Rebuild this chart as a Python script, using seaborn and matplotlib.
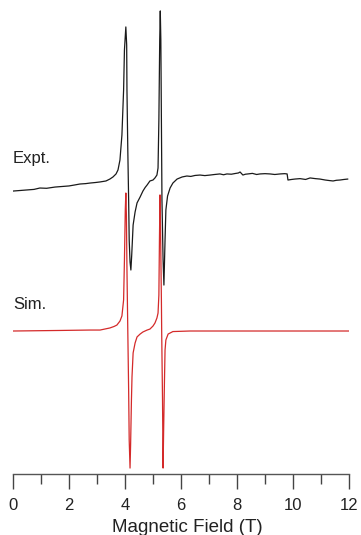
import matplotlib
matplotlib.use("Agg")
import matplotlib.pyplot as plt
from matplotlib.ticker import MultipleLocator
import pandas as pd
import seaborn as sns

# Experimental spectrum: magnetic field (T) and signal (arb. units)
expt_field = [0.00, 0.25, 0.50, 0.75, 0.96, 1.20, 1.50, 1.75, 2.00, 2.20, 2.39, 2.60, 2.75,
              2.95, 3.11, 3.32, 3.46, 3.57, 3.68, 3.75, 3.82, 3.89, 3.95, 3.98, 4.03,
              4.06, 4.07, 4.10, 4.13, 4.15, 4.18, 4.21, 4.24, 4.29, 4.36, 4.43, 4.54,
              4.64, 4.72, 4.79, 4.89, 5.00, 5.07, 5.14, 5.18, 5.21, 5.24, 5.26, 5.28,
              5.30, 5.32, 5.36, 5.39, 5.43, 5.46, 5.52, 5.61, 5.71, 5.86, 6.04, 6.21,
              6.35, 6.50, 6.68, 6.85, 7.04, 7.20, 7.39, 7.52, 7.64, 7.80, 7.93, 8.05,
              8.11, 8.21, 8.30, 8.39, 8.55, 8.70, 8.82, 9.00, 9.18, 9.35, 9.54, 9.70,
              9.79, 9.82, 9.95, 10.07, 10.25, 10.45, 10.61, 10.80, 10.96, 11.15, 11.30,
              11.43, 11.55, 11.68, 11.82, 11.96]
expt_signal = [0.014, 0.018, 0.022, 0.026, 0.036, 0.034, 0.043, 0.047, 0.051, 0.058, 0.065,
               0.068, 0.072, 0.076, 0.080, 0.087, 0.101, 0.116, 0.138, 0.167, 0.239, 0.420,
               0.746, 1.036, 1.203, 1.072, 0.746, 0.312, -0.051, -0.341, -0.500, -0.558,
               -0.449, -0.232, -0.138, -0.072, -0.029, 0.014, 0.040, 0.058, 0.087, 0.094,
               0.109, 0.130, 0.181, 0.529, 1.109, 1.319, 1.109, 0.529, -0.051, -0.486,
               -0.667, -0.341, -0.123, -0.022, 0.036, 0.072, 0.101, 0.116, 0.123, 0.120,
               0.127, 0.130, 0.126, 0.130, 0.134, 0.138, 0.132, 0.138, 0.136, 0.141,
               0.145, 0.152, 0.130, 0.136, 0.138, 0.142, 0.134, 0.138, 0.140, 0.138,
               0.134, 0.138, 0.140, 0.138, 0.094, 0.098, 0.101, 0.104, 0.098, 0.109,
               0.104, 0.101, 0.094, 0.090, 0.087, 0.092, 0.094, 0.098, 0.101]

# Simulated spectrum
sim_field = [0.00, 1.68, 2.75, 3.11, 3.46, 3.61, 3.71, 3.82, 3.89, 3.95, 3.98, 4.01, 4.03,
             4.05, 4.07, 4.10, 4.13, 4.15, 4.18, 4.20, 4.23, 4.25, 4.29, 4.36, 4.43,
             4.54, 4.64, 4.79, 4.89, 5.00, 5.07, 5.14, 5.18, 5.21, 5.23, 5.25, 5.27,
             5.30, 5.31, 5.34, 5.36, 5.38, 5.41, 5.43, 5.46, 5.54, 5.71, 6.32, 12.00]
sim_signal = [0.000, 0.004, 0.007, 0.007, 0.022, 0.033, 0.043, 0.072, 0.109, 0.225, 0.514,
              0.877, 1.000, 0.841, 0.442, 0.000, -0.428, -0.790, -0.993, -0.826, -0.500,
              -0.333, -0.159, -0.087, -0.043, -0.022, -0.007, 0.007, 0.014, 0.036, 0.058,
              0.094, 0.130, 0.261, 0.659, 0.986, 0.732, 0.225, 0.000, -0.500, -0.993,
              -0.717, -0.355, -0.138, -0.065, -0.022, -0.004, 0.000, 0.000]

trace_labels = ["Expt.", "Sim."]
x_ticks = [0, 2, 4, 6, 8, 10, 12]
x_label = "Magnetic Field (T)"
expt_offset = 1.0

sns.set_style("white")
plt.rcParams["font.family"] = ["Liberation Sans", "DejaVu Sans"]

fig = plt.figure(figsize=(3.61, 5.35), dpi=100)
ax = fig.add_axes([13 / 361, 61 / 535, 336 / 361, 469 / 535])

expt_df = pd.DataFrame({"field": expt_field,
                        "signal": [v + expt_offset for v in expt_signal]})
sim_df = pd.DataFrame({"field": sim_field, "signal": sim_signal})

sns.lineplot(data=expt_df, x="field", y="signal", ax=ax, color="#1a1a1a",
             linewidth=0.9, estimator=None, sort=False)
sns.lineplot(data=sim_df, x="field", y="signal", ax=ax, color="#d42a2a",
             linewidth=0.9, estimator=None, sort=False)

ax.set_xlim(0, 12)
ax.set_ylim(-1.036, 2.362)

for s in ["top", "left", "right"]:
    ax.spines[s].set_visible(False)
ax.spines["bottom"].set_color("#555555")
ax.spines["bottom"].set_linewidth(1.0)

ax.set_xticks(x_ticks)
ax.xaxis.set_minor_locator(MultipleLocator(1))
ax.tick_params(axis="x", which="major", direction="out", length=11, width=1.0,
               color="#444444", labelsize=12, labelcolor="#222222", pad=6.5, bottom=True)
ax.tick_params(axis="x", which="minor", direction="out", length=7, width=1.0,
               color="#444444", bottom=True)
ax.set_yticks([])
ax.set_ylabel("")
ax.set_xlabel(x_label, fontsize=13.5, labelpad=4.0, color="#222222")
ax.xaxis.label.set_x(0.52)

ax.text(0.0, expt_offset + 0.25, trace_labels[0], fontsize=12, ha="left", va="center",
        color="#222222")
ax.text(0.0, 0.19, trace_labels[1], fontsize=12, ha="left", va="center", color="#222222")

fig.savefig("out.png", dpi=100)
